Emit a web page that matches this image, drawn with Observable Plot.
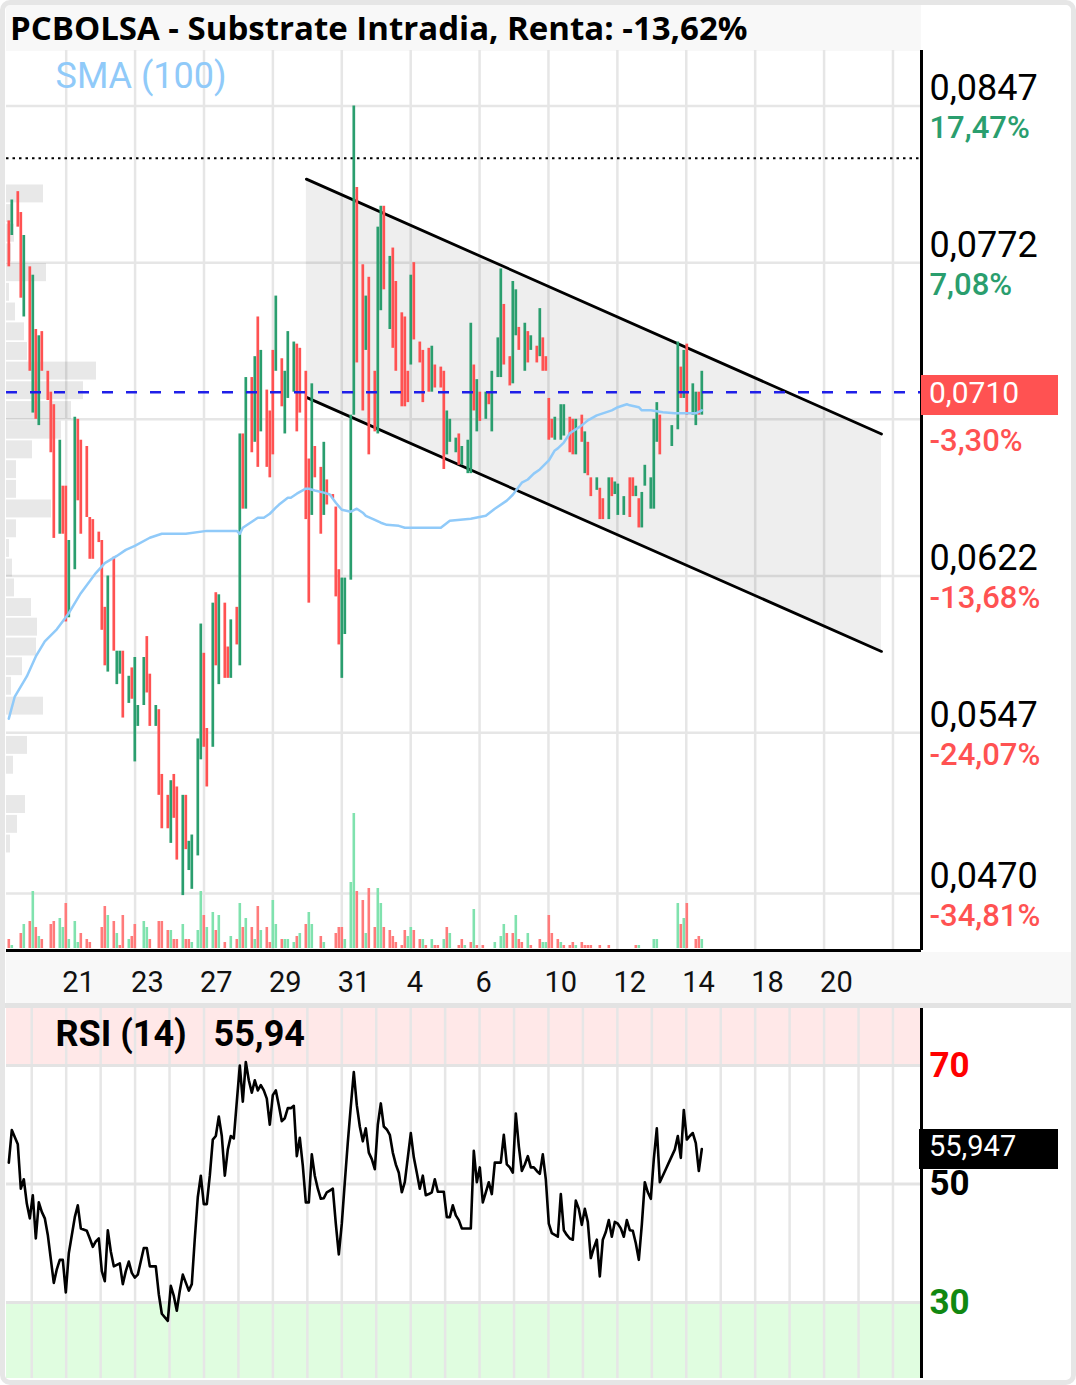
<!DOCTYPE html>
<html><head><meta charset="utf-8">
<script src="https://cdn.jsdelivr.net/npm/d3@7"></script>
<script src="https://cdn.jsdelivr.net/npm/@observablehq/plot@0.6"></script>
<style>
html,body{margin:0;padding:0;background:#fff;}
#root{position:relative;width:1076px;height:1385px;overflow:hidden;font-family:Roboto,sans-serif;background:#fff;}
.layer{position:absolute;left:0;}
.layer svg{display:block;}
</style></head><body><div id="root"></div>
<script>
// ---------------- DATA ----------------
const titleText = "PCBOLSA - Substrate Intradia, Renta: -13,62%";
const smaLabel = "SMA (100)";
// candles (bar index, open, close)
const barIdx = [0,1,3,4,5,7,8,9,10,11, 13,14,15,17,18,19,20,22,23,24, 26,27,28,30,31,32,33,35,36,37,
 38,40,41,42,43,45,46,47,49,50, 51,53,54,55,56,58,59,60,61,63, 64,65,66,68,69,70,72,73,74,76,
 77,78,79,81,82,83,84,86,87,88, 89,91,92,93,95,96,97,99,100,101, 102,104,105,106,108,109,110,111,112,114,
 115,116,118,119,120,122,123,124,125,127, 128,129,131,132,133,134,135,137,138,140, 141,142,144,145,146,147,149,150,151,153,
 154,155,156,157,159,160,161,163,164,165, 167,168,169,170,172,173,174,176,177,178, 179,180,181,182,184,185,187,188,189,191,
 192,193,194,196,197,198,200,201,202,203, 205,207,208,209,210,211,212,214,215,216, 217,221,223,224,225,226,228,229,230,231];
const opens = [.0792,.0785,.0806,.0796,.0746,.0770,.0700,.0740,.0694,.0739, .0720,.0710,.0704,.0642,.0665,.0665,.0602,.0625,.0697,.0687, .0684,.0650,.0649,.0643,.0639,.0607,.0576,.0631,.0570,.0575,
 .0586,.0561,.0578,.0533,.0550,.0560,.0593,.0575,.0550,.0558, .0527,.0517,.0494,.0527,.0521,.0469,.0517,.0481,.0472,.0488, .0534,.0585,.0549,.0540,.0614,.0570,.0609,.0588,.0573,.0607,
 .0579,.0690,.0654,.0717,.0686,.0746,.0691,.0711,.0701,.0730, .0720,.0726,.0690,.0707,.0710,.0733,.0731,.0720,.0678,.0651, .0684,.0674,.0651,.0668,.0661,.0655,.0625,.0573,.0594,.0620,
 .0699,.0808,.0771,.0730,.0765,.0720,.0690,.0749,.0799,.0740, .0779,.0763,.0748,.0746,.0720,.0723,.0772,.0734,.0730,.0731, .0710,.0723,.0722,.0720,.0680,.0686,.0681,.0690,.0675,.0671,
 .0671,.0723,.0691,.0710,.0697,.0710,.0691,.0717,.0717,.0752, .0727,.0714,.0737,.0741,.0720,.0739,.0730,.0732,.0727,.0736, .0727,.0707,.0697,.0687,.0687,.0689,.0698,.0697,.0680,.0699,
 .0671,.0686,.0669,.0663,.0664,.0659,.0649,.0669,.0661,.0651, .0651,.0669,.0669,.0660,.0659,.0645,.0665,.0654,.0654,.0686, .0699,.0684,.0692,.0722,.0707,.0733,.0699,.0694,.0710,.0699];
const closes = [.0770,.0802,.0789,.0755,.0785,.0720,.0766,.0697,.0737,.0720, .0706,.0681,.0640,.0687,.0642,.0600,.0639,.0698,.0658,.0642, .0650,.0630,.0630,.0638,.0596,.0579,.0622,.0586,.0586,.0586,
 .0554,.0574,.0563,.0583,.0560,.0583,.0566,.0550,.0560,.0517, .0501,.0501,.0524,.0506,.0486,.0517,.0491,.0495,.0498,.0544, .0599,.0540,.0521,.0609,.0579,.0613,.0573,.0573,.0601,.0589,
 .0690,.0654,.0717,.0681,.0727,.0674,.0730,.0674,.0669,.0680, .0756,.0703,.0720,.0739,.0734,.0691,.0700,.0649,.0609,.0714, .0669,.0642,.0686,.0656,.0659,.0612,.0589,.0621,.0621,.0699,
 .0847,.0724,.0701,.0756,.0680,.0691,.0789,.0799,.0759,.0775, .0731,.0720,.0703,.0703,.0705,.0766,.0735,.0724,.0705,.0710, .0732,.0712,.0712,.0673,.0701,.0697,.0688,.0675,.0684,.0687,
 .0743,.0701,.0716,.0696,.0710,.0704,.0720,.0736,.0769,.0723, .0713,.0763,.0759,.0730,.0743,.0724,.0737,.0724,.0750,.0720, .0720,.0687,.0688,.0698,.0704,.0704,.0681,.0680,.0697,.0686,
 .0691,.0670,.0660,.0669,.0649,.0649,.0669,.0660,.0667,.0666, .0660,.0650,.0660,.0665,.0645,.0662,.0675,.0669,.0697,.0705, .0680,.0694,.0734,.0707,.0730,.0699,.0714,.0710,.0699,.0720];
// volume (bar index, volume, up=1/down=0)
const volIdx = [0,1,4,5,7,8,9,10,11,14, 15,17,18,19,20,22,23,24,26,27, 31,32,33,35,36,37,38,40,41,42, 45,46,47,50,51,53,54,55,56,58,
 59,60,61,63,64,65,66,68,69,70, 72,74,76,77,78,79,81,82,83,84, 86,87,88,89,91,92,93,95,96,97, 99,100,101,104,105,109,110,111,112,114,
 115,116,118,119,120,122,123,124,125,127, 128,129,131,132,133,134,135,137,138,139, 141,142,143,145,146,147,150,151,152,154,
 155,156,158,162,164,165,166,168,169,170, 171,173,174,177,178,179,180,181,183,184, 185,187,188,189,191,192,193,194,197,200,
 209,210,215,216,223,224,225,226,229,230, 231];
const volumes = [9,3,15,24,27,57,21,12,9,24, 27,30,21,45,9,27,6,15,9,6, 21,42,33,27,15,3,33,9,12,24, 27,21,9,27,27,18,18,9,9,24,
 9,9,6,18,57,33,21,36,18,33, 6,12,9,45,21,30,21,9,42,18, 21,6,48,24,9,9,9,6,12,15, 24,36,24,12,6,15,21,21,9,66,
 135,57,48,15,60,21,60,45,21,18, 12,6,3,18,12,21,18,9,9,3, 9,3,3,9,21,15,3,9,3,6,
 39,3,3,6,12,24,15,15,33,9, 6,15,3,9,6,6,33,15,9,6, 3,3,6,3,6,3,3,3,3,3,
 3,3,9,9,45,24,30,45,9,12, 9];
const volUp = [0,1,0,1,0,1,0,1,0,0, 0,1,1,0,1,1,1,0,0,0, 0,0,1,0,1,0,0,1,0,0, 1,1,0,0,0,0,1,0,0,1,
 0,0,1,1,1,0,1,1,0,1, 0,1,0,1,0,1,0,1,0,1, 0,0,1,1,0,1,1,1,0,1, 0,1,1,0,1,0,0,0,1,1,
 1,0,0,1,0,0,1,1,0,0, 0,0,0,0,1,1,0,0,1,0, 1,0,0,1,0,1,0,0,1,0,
 1,0,0,1,1,1,0,0,1,0, 0,1,0,0,1,1,0,0,0,1, 0,0,0,1,0,0,0,0,0,0,
 0,1,1,1,1,0,1,0,0,0, 1];
// SMA(100)
const smaIdx = [0,2,6,9,12,16,20,24,29,32, 36,39,42,47,51,59,66,76,77,78, 80,83,85,87,89,90,93,94,96,99,
 100,102,105,107,109,111,114,116,118,119, 122,124,126,130,132,144,147,154,159,162, 166,168,171,173,175,177,180,182,183,185,
 187,191,193,196,201,203,206,207,210,211, 214,218,222,229,231];
const smaValues = [.05537,.05643,.05739,.05835,.05907,.05965,.06042,.06138,.06234,.06282, .06316,.06345,.06364,.06403,.06422,.06422,.06436,.06436,.06422,.06451,
 .06470,.06499,.06499,.06518,.06547,.06561,.06595,.06595,.06614,.06638, .06638,.06629,.06619,.06610,.06571,.06537,.06528,.06542,.06523,.06508,
 .06489,.06475,.06465,.06460,.06451,.06451,.06484,.06494,.06508,.06542, .06581,.06609,.06667,.06682,.06710,.06730,.06773,.06821,.06831,.06859,
 .06903,.06941,.06965,.06989,.07013,.07028,.07042,.07037,.07028,.07013, .07013,.07004,.06999,.06999,.07013];
// RSI(14), one value per bar index (null = no bar)
const rsiValues = [53.6,59.1,null,56.7,49.2,50.8,46.7,44.2,48.1,40.8,
 46.9,45.3,44.2,41.4,null,33.3,35.6,37.2,37.2,31.7,
 38.3,null,44.4,46.4,42.5,null,42.1,40.8,39.4,40.3,
 40.8,35.3,33.6,42.2,38.6,36.1,null,36.6,33.1,35.3,
 36.9,35.0,34.2,34.7,null,39.2,39.2,36.1,null,36.1,
 31.4,28.1,null,26.9,32.8,31.1,28.6,32.0,34.7,null,
 32.0,33.1,40.8,47.8,51.4,46.6,46.6,51.4,57.5,58.1,
 61.4,58.1,51.4,55.8,58.1,57.7,63.9,70.0,63.9,70.6,
 67.5,65.4,67.5,65.8,66.7,65.8,64.4,60.0,65.0,65.8,
 63.3,60.6,61.1,62.8,62.8,63.2,54.7,57.8,53.1,46.9,
 46.9,55.0,51.4,49.2,47.5,47.6,48.6,48.9,49.2,43.3,
 38.1,43.3,50.3,57.0,63.1,68.9,63.3,59.7,57.2,59.4,
 55.3,54.2,52.5,60.0,63.6,59.7,59.2,58.3,55.3,53.3,
 51.9,48.6,50.3,null,58.6,54.5,51.9,49.2,51.4,48.1,
 48.3,48.6,50.8,48.7,48.7,48.7,44.4,44.4,46.4,44.7,
 43.9,42.5,42.5,null,42.5,55.6,50.3,52.8,46.9,48.6,
 50.3,48.3,53.6,null,53.6,58.3,53.3,52.8,51.9,61.9,
 56.4,52.2,53.3,54.7,52.8,52.8,52.2,51.7,55.0,50.8,
 43.3,41.7,41.4,41.1,48.3,42.2,41.4,40.8,40.6,47.2,
 45.8,43.1,45.8,43.6,37.5,39.2,40.6,34.4,40.6,41.9,
 43.9,41.1,43.6,43.3,42.5,41.1,43.9,42.2,42.1,40.0,
 37.2,43.1,50.3,48.6,47.5,54.2,59.4,50.3,51.4,52.5,
 53.6,54.7,55.8,58.1,54.4,62.5,57.5,58.1,58.6,56.9,
 52.2,55.9];
const rsiLabel = "RSI (14)";
const rsiLastText = "55,94";
const rsiLast = 55.947;
const rsiLastBox = "55,947";
const rsiLevels = [70, 50, 30];
// volume profile (price bin centre, volume)
const profilePrices = [.08049,.07955,.07861,.07767,.07672,.07578,.07484,.07389,.07295,.07201,.07107,.07012,.06918,.06824,.06729,.06635,.06541,
 .06446,.06352,.06258,.06163,.06069,.05975,.05880,.05786,.05692,.05597,.05503,.05409,.05314,.05220,.05126,.05031,.04937];
const profileVolumes = [37,5,8,5,40,3,9,18,21,90,77,65,55,26,10,10,45, 10,3,6,8,25,31,30,16,5,37,0,21,7,0,19,11,4];
// price axis (the 0,0697 price text is covered by the current-price label, as in the reference)
const priceTicks = [0.0847, 0.0772, 0.0697, 0.0622, 0.0547, 0.0470];
const priceTickText = ["0,0847","0,0772","","0,0622","0,0547","0,0470"];
const priceTickPct = ["17,47%","7,08%","-3,30%","-13,68%","-24,07%","-34,81%"];
const lastPrice = 0.0710;
const lastPriceText = "0,0710";
const dottedLevel = 0.0822;
// descending channel (bar index, upper price, lower price)
const channelIdx = [99.2, 290.9];
const channelUpper = [0.0812, 0.0690];
const channelLower = [0.07075, 0.05859];
// day labels
const dayLabels = ["21","23","27","29","31","4","6","10","12","14","18","20"];

// ---------------- LAYOUT ----------------
const W = 1076;
const GREEN = "#2a9e6e", RED = "#ff5252";
const firstDayIdx = 19.13, barsPerDay = 11.483;      // bar-index position of day boundaries
const xDomain = [-0.767, 304.23];
const yDomain = [0.044272, 0.087357];
const root = document.getElementById("root");

const candles = barIdx.map((i, k) => ({i, o: opens[k], c: closes[k]}));
const vols = volIdx.map((i, k) => ({i, v: volumes[k], up: volUp[k]}));
const sma = smaIdx.map((i, k) => ({i, v: smaValues[k]}));
const rsi = rsiValues.map((v, i) => ({i, v})).filter(d => d.v != null);
const profile = profilePrices.map((p, k) => ({p, v: profileVolumes[k]}));
const channel = channelIdx.map((i, k) => ({i, hi: channelUpper[k], lo: channelLower[k]}));
const mainGrid = d3.range(0, 25, 2).map(k => firstDayIdx + k * barsPerDay);
const rsiGrid = d3.range(-1, 25).map(k => firstDayIdx + k * barsPerDay);
const dayTicks = dayLabels.map((t, k) => ({t, x: firstDayIdx + 2 * k * barsPerDay}));
const priceLabels = priceTicks.map((p, k) => ({p, t: priceTickText[k], pct: priceTickPct[k]}));

function addDiv(css, html) {
  const d = document.createElement("div");
  d.style.cssText = "position:absolute;" + css;
  if (html != null) d.innerHTML = html;
  root.appendChild(d);
  return d;
}
function addLayer(el, top) {
  const d = document.createElement("div");
  d.className = "layer";
  d.style.top = top + "px";
  d.appendChild(el);
  root.appendChild(d);
  return el;
}
const base = {
  width: W, height: 1000, marginLeft: 6, marginRight: 155, marginTop: 50, marginBottom: 50,
  x: {domain: xDomain, axis: null},
  y: {domain: yDomain, axis: null},
  color: {type: "identity"},
  style: {background: "transparent", fontFamily: "Roboto", overflow: "visible"}
};

// title bar + axis band
addDiv("left:6px;top:4px;width:915px;height:47px;background:#f8f8f8;");
addDiv("left:10px;top:5px;height:47px;line-height:47px;font:700 33px 'Open Sans',sans-serif;color:#000;white-space:nowrap;", titleText);
addDiv("left:6px;top:952px;width:1066px;height:51px;background:#f8f8f8;");
addDiv("left:0;top:1003px;width:1076px;height:5px;background:#e3e3e3;");

// layer A: grid + channel fill
addLayer(Plot.plot({...base, marks: [
  Plot.ruleX(mainGrid, {stroke: "#e6e6e6", strokeWidth: 2.5}),
  Plot.ruleY(priceTicks, {stroke: "#e6e6e6", strokeWidth: 2.5}),
  Plot.areaY(channel, {x: "i", y1: "lo", y2: "hi", fill: "#000", fillOpacity: 0.065})
]}), 0);

// layer B1: volume profile
addLayer(Plot.plot({...base, x: {domain: [0, 915], axis: null}, marks: [
  Plot.rect(profile, {x1: 0, x2: "v", y1: d => d.p - 0.00043, y2: d => d.p + 0.00043, fill: "#000", fillOpacity: 0.09})
]}), 0);

// layer B2: volume
addLayer(Plot.plot({...base, marginBottom: 52, y: {domain: [0, 898], axis: null}, marks: [
  Plot.ruleX(vols, {x: "i", y1: 0, y2: "v", stroke: d => d.up ? "#80e2ae" : "#ff7b7b", strokeWidth: 2.6})
]}), 0);

// layer C: candles, lines, labels
const mainPlot = addLayer(Plot.plot({...base, marks: [
  Plot.line(channel, {x: "i", y: "hi", stroke: "#000", strokeWidth: 2.8}),
  Plot.line(channel, {x: "i", y: "lo", stroke: "#000", strokeWidth: 2.8}),
  Plot.ruleY([dottedLevel], {stroke: "#000", strokeWidth: 2, strokeDasharray: "2.5,4"}),
  Plot.ruleX(candles, {x: "i", y1: "o", y2: "c", stroke: d => d.c >= d.o ? GREEN : RED, strokeWidth: 2.7}),
  Plot.line(sma, {x: "i", y: "v", stroke: "#90caf9", strokeWidth: 2.5}),
  Plot.ruleY([lastPrice], {stroke: "#1f1fe8", strokeWidth: 2.5, strokeDasharray: "11,13"}),
  Plot.ruleX([xDomain[1]], {stroke: "#000", strokeWidth: 3}),
  Plot.ruleY([yDomain[0]], {stroke: "#000", strokeWidth: 3}),
  Plot.text(priceLabels.filter(d => d.t), {y: "p", text: "t", frameAnchor: "right", dx: 8, dy: -6,
    textAnchor: "start", lineAnchor: "bottom", fontSize: 36, fontFamily: "Roboto", fill: "#000"}),
  Plot.text(priceLabels, {y: "p", text: "pct", frameAnchor: "right", dx: 8, dy: 32,
    textAnchor: "start", lineAnchor: "bottom", fontSize: 31, fontFamily: "Roboto", fontWeight: 500,
    fill: d => d.pct.startsWith("-") ? RED : GREEN}),
  Plot.text(dayTicks, {x: "x", text: "t", frameAnchor: "bottom", dx: -4, dy: 41, textAnchor: "start", lineAnchor: "bottom",
    fontSize: 29, fontFamily: "Roboto", fill: "#111"}),
  Plot.text([smaLabel], {text: d => d, frameAnchor: "top-left", dx: 49, dy: 37, textAnchor: "start", lineAnchor: "bottom",
    fontSize: 36, fontFamily: "Roboto", fill: "#90caf9"})
]}), 0);

// current price box
const yLast = mainPlot.scale("y").apply(lastPrice);
addDiv(`left:921px;top:${yLast - 17}px;width:137px;height:40px;line-height:40px;background:${RED};color:#fff;font:400 30px Roboto;padding-left:8px;box-sizing:border-box;`, lastPriceText);

// RSI panel
const rsiTop = 1008;
const rsiDomain = [17.17, 79.62];
const rsiPlot = addLayer(Plot.plot({
  width: W, height: 370, marginLeft: 6, marginRight: 155, marginTop: 0, marginBottom: 0,
  x: {domain: xDomain, axis: null},
  y: {domain: rsiDomain, axis: null},
  color: {type: "identity"},
  style: {background: "transparent", fontFamily: "Roboto", overflow: "visible"},
  marks: [
    Plot.rect([{a: 70, b: rsiDomain[1], f: "#ffe8e8"}, {a: rsiDomain[0], b: 30, f: "#e0fde0"}],
      {x1: xDomain[0], x2: xDomain[1], y1: "a", y2: "b", fill: "f"}),
    Plot.ruleX(rsiGrid, {stroke: "#e6e6e6", strokeWidth: 2.5}),
    Plot.ruleY(rsiLevels, {stroke: "#e3e3e3", strokeWidth: 3}),
    Plot.line(rsi, {x: "i", y: "v", stroke: "#000", strokeWidth: 2.6}),
    Plot.ruleX([xDomain[1]], {stroke: "#000", strokeWidth: 3}),
    Plot.text([rsiLabel], {text: d => d, frameAnchor: "top-left", dx: 49, dy: 37, textAnchor: "start", lineAnchor: "bottom",
      fontSize: 36, fontWeight: 700, fontFamily: "Roboto", fill: "#000"}),
    Plot.text([rsiLastText], {text: d => d, frameAnchor: "top-left", dx: 207, dy: 37, textAnchor: "start", lineAnchor: "bottom",
      fontSize: 36, fontWeight: 700, fontFamily: "Roboto", fill: "#000"}),
    Plot.text(rsiLevels, {y: d => d, text: d => String(d), frameAnchor: "right", dx: 8, textAnchor: "start",
      fontSize: 35, fontWeight: 700, fontFamily: "Roboto", fill: d => d === 70 ? "#ff0000" : d === 30 ? "#118811" : "#000"})
  ]
}), rsiTop);
const yRsi = rsiTop + rsiPlot.scale("y").apply(rsiLast);
addDiv(`left:919px;top:${yRsi - 19}px;width:139px;height:40px;line-height:40px;background:#000;color:#fff;font:400 29px Roboto;padding-left:10px;box-sizing:border-box;`, rsiLastBox);

// outer border
addDiv("left:0;top:0;width:1076px;height:1385px;border:5px solid #e6e6e6;border-radius:10px;box-sizing:border-box;pointer-events:none;");
</script></body></html>
